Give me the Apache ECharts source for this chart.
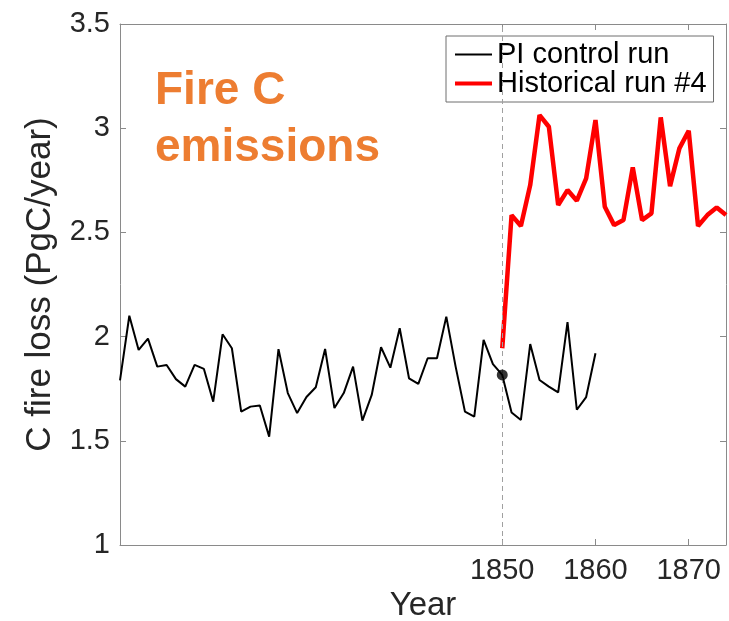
<!DOCTYPE html>
<html>
<head>
<meta charset="utf-8">
<script src="https://cdn.jsdelivr.net/npm/echarts@6/dist/echarts.min.js"></script>
<style>
html,body{margin:0;padding:0;background:#fff;}
#chart{width:729px;height:621px;}
</style>
</head>
<body>
<div id="chart"></div>
<script>
// PI control run: yearly values starting 1809
const piStartYear = 1809;
const piValues = [1.79, 2.10, 1.936, 1.99, 1.856, 1.864, 1.796, 1.76, 1.864, 1.845,
  1.688, 2.011, 1.944, 1.64, 1.664, 1.669, 1.52, 1.94, 1.729, 1.633,
  1.71, 1.757, 1.941, 1.657, 1.729, 1.856, 1.597, 1.72, 1.949, 1.851,
  2.04, 1.80, 1.773, 1.896, 1.896, 2.096, 1.856, 1.64, 1.616, 1.984,
  1.868, 1.816, 1.636, 1.60, 1.964, 1.792, 1.76, 1.732, 2.069, 1.649,
  1.71, 1.92];
// Historical run #4: yearly values starting 1850
const histStartYear = 1850;
const histValues = [1.944, 2.583, 2.531, 2.727, 3.063, 3.007, 2.631, 2.703, 2.652, 2.759,
  3.039, 2.623, 2.535, 2.559, 2.812, 2.559, 2.591, 3.052, 2.722, 2.903,
  2.988, 2.531, 2.583, 2.62, 2.583];
const markerYear = 1850;
const xTicks = [1850, 1860, 1870];
const seriesNames = ['PI control run', 'Historical run #4'];
const titleText = 'Fire C\nemissions';

const piData = piValues.map((v, i) => [piStartYear + i, v]);
const histData = histValues.map((v, i) => [histStartYear + i, v]);
const markerData = piData.filter(d => d[0] === markerYear);

const FONT = '"Liberation Sans", Arial, Helvetica, sans-serif';
const AXIS_COLOR = '#8a8a8a';
const TEXT_COLOR = '#262626';

const chart = echarts.init(document.getElementById('chart'), null, {renderer: 'canvas'});
chart.setOption({
  backgroundColor: '#ffffff',
  animation: false,
  textStyle: {fontFamily: FONT},
  title: {
    text: titleText,
    left: 150,
    top: 58,
    textStyle: {color: '#ED7D31', fontSize: 46, fontWeight: 'bold', fontFamily: FONT, lineHeight: 57}
  },
  legend: {
    data: [
      {name: seriesNames[0], lineStyle: {width: 2}},
      {name: seriesNames[1], lineStyle: {width: 4}}
    ],
    orient: 'vertical',
    left: 446,
    top: 36,
    padding: [4, 7, 4, 7],
    itemGap: 0,
    itemWidth: 37,
    itemHeight: 14,
    itemStyle: {color: 'rgba(0,0,0,0)', borderWidth: 0, opacity: 0},
    backgroundColor: '#ffffff',
    borderColor: '#6e6e6e',
    borderWidth: 1,
    borderRadius: 0,
    textStyle: {fontSize: 29, color: '#000', fontFamily: FONT, lineHeight: 29}
  },
  grid: {left: 120, right: 3, top: 24, bottom: 76, containLabel: false, outerBoundsMode: 'none'},
  xAxis: [{
    type: 'value',
    min: 1809,
    max: 1874,
    position: 'bottom',
    splitLine: {show: false},
    axisLine: {show: true, onZero: false, lineStyle: {color: AXIS_COLOR, width: 1}},
    axisTick: {show: true, inside: true, length: 6, customValues: xTicks, lineStyle: {color: AXIS_COLOR}},
    axisLabel: {show: true, customValues: xTicks, fontSize: 29, color: TEXT_COLOR, margin: 11, fontFamily: FONT,
      formatter: v => String(v)},
    name: 'Year',
    nameLocation: 'middle',
    nameGap: 44,
    nameTextStyle: {fontSize: 33, color: TEXT_COLOR, fontFamily: FONT}
  }, {
    type: 'value',
    min: 1809,
    max: 1874,
    position: 'top',
    splitLine: {show: false},
    axisLine: {show: true, onZero: false, lineStyle: {color: AXIS_COLOR, width: 1}},
    axisTick: {show: true, inside: true, length: 6, customValues: xTicks, lineStyle: {color: AXIS_COLOR}},
    axisLabel: {show: false}
  }],
  yAxis: [{
    type: 'value',
    min: 1,
    max: 3.5,
    interval: 0.5,
    position: 'left',
    splitLine: {show: false},
    axisLine: {show: true, onZero: false, lineStyle: {color: AXIS_COLOR, width: 1}},
    axisTick: {show: true, inside: true, length: 6, lineStyle: {color: AXIS_COLOR}},
    axisLabel: {fontSize: 29, color: TEXT_COLOR, margin: 10, fontFamily: FONT},
    name: 'C fire loss (PgC/year)',
    nameLocation: 'middle',
    nameGap: 62,
    nameTextStyle: {fontSize: 35, color: TEXT_COLOR, fontFamily: FONT}
  }, {
    type: 'value',
    min: 1,
    max: 3.5,
    interval: 0.5,
    position: 'right',
    splitLine: {show: false},
    axisLine: {show: true, onZero: false, lineStyle: {color: AXIS_COLOR, width: 1}},
    axisTick: {show: true, inside: true, length: 6, lineStyle: {color: AXIS_COLOR}},
    axisLabel: {show: false}
  }],
  series: [{
    name: seriesNames[0],
    type: 'line',
    data: piData,
    symbol: 'none',
    color: '#000000',
    lineStyle: {color: '#000000', width: 2},
    z: 3,
    markLine: {
      silent: true,
      symbol: 'none',
      label: {show: false},
      lineStyle: {color: '#a0a0a0', type: [5, 4], width: 1},
      data: [{xAxis: markerYear}]
    }
  }, {
    name: seriesNames[1],
    type: 'line',
    data: histData,
    symbol: 'none',
    color: '#ff0000',
    lineStyle: {color: '#ff0000', width: 4.5},
    z: 4
  }, {
    name: 'marker',
    type: 'scatter',
    data: markerData,
    symbol: 'circle',
    symbolSize: 11,
    itemStyle: {color: '#000000'},
    z: 5
  }]
});
</script>
</body>
</html>
